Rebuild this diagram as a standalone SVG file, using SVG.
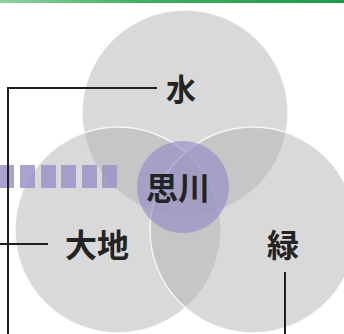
<svg xmlns="http://www.w3.org/2000/svg" width="344" height="334" viewBox="0 0 344 334">
<defs>
<linearGradient id="gbar" x1="0" y1="0" x2="1" y2="0">
<stop offset="0" stop-color="#8fd3a0"/>
<stop offset="0.4" stop-color="#3fb060"/>
<stop offset="1" stop-color="#1f9a45"/>
</linearGradient>
<style>
.c{fill:#b4b4b4;fill-opacity:0.5;stroke:#ffffff;stroke-width:1.5;stroke-opacity:0.8}
.p{fill:#9088c6;fill-opacity:0.6}
.d{fill:#9a93c8;fill-opacity:0.85}
.t{font-family:"Noto Sans CJK JP","Noto Sans CJK SC",sans-serif;font-weight:bold;fill:#232323;text-anchor:middle}
.l{stroke:#1e1e1e;stroke-width:2;fill:none}
</style>
</defs>
<rect width="344" height="334" fill="#ffffff"/>
<rect x="0" y="0" width="344" height="3" fill="url(#gbar)"/>
<g id="circle-mizu"><circle class="c" cx="185" cy="113" r="103"/></g>
<g id="circle-daichi"><circle class="c" cx="118" cy="230" r="103"/></g>
<g id="circle-midori"><circle class="c" cx="253" cy="230" r="103"/></g>
<g id="dashes">
<rect class="d" x="0" y="165" width="14" height="23"/>
<rect class="d" x="20" y="165" width="15" height="23"/>
<rect class="d" x="41" y="165" width="15" height="23"/>
<rect class="d" x="61" y="165" width="15" height="23"/>
<rect class="d" x="82" y="165" width="15" height="23"/>
<rect class="d" x="102" y="165" width="15" height="23"/>
</g>
<g id="center"><circle class="p" cx="183" cy="187" r="46"/></g>
<g id="connectors">
<polyline class="l" points="157,88 8,88 8,334"/>
<line class="l" x1="0" y1="244" x2="48" y2="244"/>
<line class="l" x1="285" y1="272" x2="285" y2="334"/>
</g>
<g id="labels">
<text class="t" x="181" y="100" font-size="30">水</text>
<text class="t" x="178" y="200" font-size="32">思川</text>
<text class="t" x="97" y="257" font-size="32">大地</text>
<text class="t" x="283" y="257" font-size="32">緑</text>
</g>
</svg>
